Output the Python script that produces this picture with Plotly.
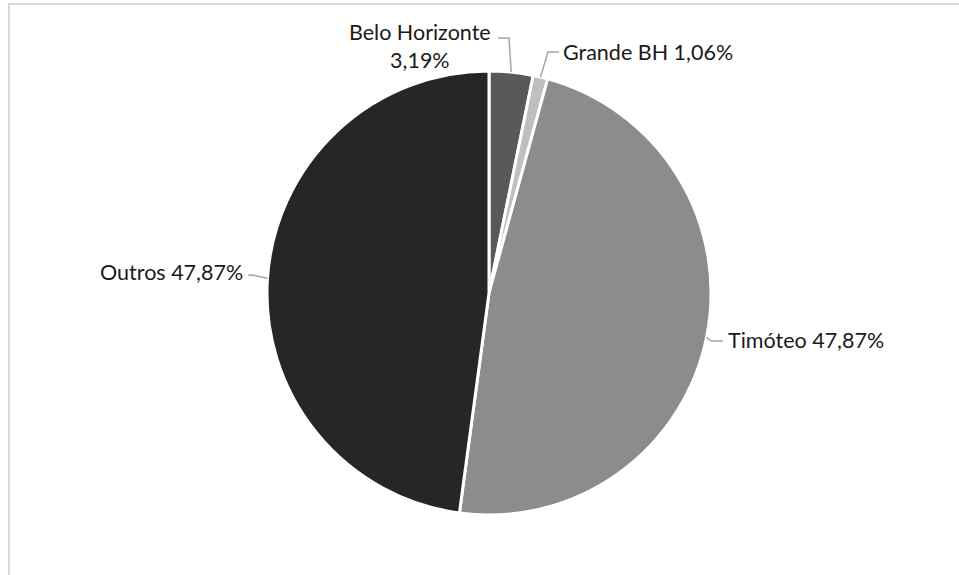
import math
import plotly.graph_objects as go

# ---- data ----
labels = ["Belo Horizonte", "Grande BH", "Timóteo", "Outros"]
counts = [3, 1, 45, 45]
pct_text = ["3,19%", "1,06%", "47,87%", "47,87%"]
colors = ["#595959", "#bfbfbf", "#8c8c8c", "#262626"]

W, H = 959, 575
CX, CY, R = 489, 293, 222  # pie centre / radius in pixels

def px(x):
    return x / W

def py(y):
    return 1 - y / H

fig = go.Figure(go.Pie(
    labels=labels, values=counts, sort=False, direction="clockwise", rotation=0,
    marker=dict(colors=colors, line=dict(color="white", width=3)),
    textinfo="none", hoverinfo="label+percent", showlegend=False,
    domain=dict(x=[px(CX - R), px(CX + R)], y=[py(CY + R), py(CY - R)]),
))

# edge points from data angles
total = sum(counts)
edges = []
acc = 0
for c in counts:
    mid = (acc + c / 2) / total * 2 * math.pi
    edges.append((CX + R * math.sin(mid), CY - R * math.cos(mid)))
    acc += c

# label layout (pixel positions) and leader knees
label_cfg = [
    dict(text=f"{labels[0]}<br>{pct_text[0]}", x=420, y=46, xanchor="center", knee=[(509, 38), (498, 38)]),
    dict(text=f"{labels[1]} {pct_text[1]}", x=561, y=52, xanchor="left", knee=[(548, 52), (559, 52)]),
    dict(text=f"{labels[2]} {pct_text[2]}", x=726, y=340, xanchor="left", knee=[(711, 341), (723, 341)]),
    dict(text=f"{labels[3]} {pct_text[3]}", x=245, y=272, xanchor="right", knee=[(252, 275), (248, 275)]),
]

annotations = []
shapes = []
for (ex, ey), cfg in zip(edges, label_cfg):
    annotations.append(dict(
        text=cfg["text"], x=px(cfg["x"]), y=py(cfg["y"]), xref="paper", yref="paper",
        xanchor=cfg["xanchor"], yanchor="middle", showarrow=False, align="center",
        font=dict(family="Lato", size=21.5, color="#1a1a1a"),
    ))
    pts = [(ex, ey)] + cfg["knee"]
    path = "M " + " L ".join(f"{px(x):.5f},{py(y):.5f}" for x, y in pts)
    shapes.append(dict(type="path", path=path, xref="paper", yref="paper",
                       line=dict(color="#a6a6a6", width=1.5)))

# outer chart border (partially visible)
shapes.append(dict(type="rect", xref="paper", yref="paper",
                   x0=px(9), x1=px(W + 10), y0=py(H + 10), y1=py(4),
                   line=dict(color="#d9d9d9", width=2)))

fig.update_layout(
    width=W, height=H, margin=dict(l=0, r=0, t=0, b=0),
    paper_bgcolor="white", plot_bgcolor="white",
    annotations=annotations, shapes=shapes,
)

fig.write_html("out.html", config={"displayModeBar": False},
               post_script="document.body.style.margin='0';document.body.style.overflow='hidden';")
